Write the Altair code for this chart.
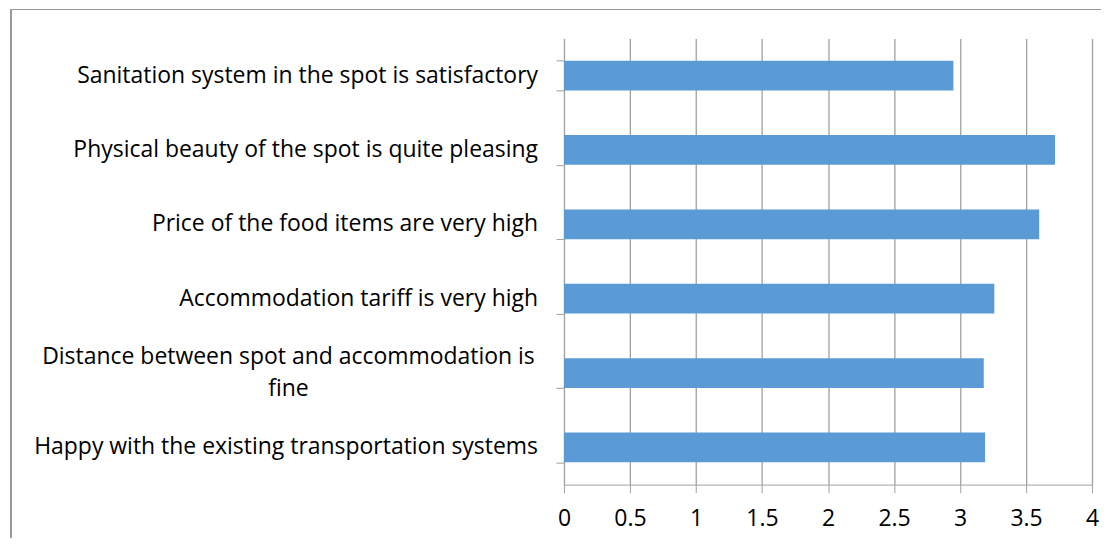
import altair as alt
import pandas as pd

categories = [
    "Sanitation system in the spot is satisfactory",
    "Physical beauty of the spot is quite pleasing",
    "Price of the food items are very high",
    "Accommodation tariff is very high",
    "Distance between spot and accommodation is\nfine",
    "Happy with the existing transportation systems",
]
values = [2.95, 3.72, 3.60, 3.26, 3.18, 3.19]
x_ticks = [0, 0.5, 1, 1.5, 2, 2.5, 3, 3.5, 4]

df = pd.DataFrame({"item": categories, "score": values})

FONT = "Open Sans"
FS = 23
GRID = "#a0a0a0"

y_enc = alt.Y(
    "item:N",
    sort=categories,
    scale=alt.Scale(paddingInner=0.6, paddingOuter=0.3),
    axis=alt.Axis(
        title=None,
        labels=False,
        tickBand="extent",
        tickSize=8,
        tickColor=GRID,
        domainColor=GRID,
        grid=False,
    ),
)

bars = alt.Chart(df).mark_bar(color="#5B9BD5").encode(
    y=y_enc,
    x=alt.X(
        "score:Q",
        scale=alt.Scale(domain=[0, 4], nice=False),
        axis=alt.Axis(
            title=None,
            values=x_ticks,
            format="~g",
            grid=True,
            gridColor=GRID,
            gridWidth=1.3,
            tickSize=8,
            tickColor=GRID,
            domainColor=GRID,
            labelFont=FONT,
            labelFontSize=FS,
            labelColor="#000000",
            labelPadding=15,
            labelFlush=False,
        ),
    ),
)

labels_single = alt.Chart(df).transform_filter(
    "indexof(datum.item, '\\n') < 0"
).mark_text(align="right", baseline="middle", font=FONT, fontSize=FS, color="#000000").encode(
    y=alt.Y("item:N", sort=categories),
    x=alt.value(-26),
    text="item:N",
)

labels_wrapped = alt.Chart(df).transform_filter(
    "indexof(datum.item, '\\n') >= 0"
).mark_text(align="center", baseline="middle", font=FONT, fontSize=FS, color="#000000",
            lineBreak="\n", lineHeight=32, dy=-16).encode(
    y=alt.Y("item:N", sort=categories),
    x=alt.value(-276),
    text="item:N",
)

border_top = alt.Chart(df).mark_rule(color="#999999", strokeWidth=1.2).encode(
    x=alt.value(-554), x2=alt.value(538), y=alt.value(-29)
)
border_left = alt.Chart(df).mark_rule(color="#999999", strokeWidth=1.2).encode(
    x=alt.value(-554), y=alt.value(-29), y2=alt.value(500)
)

chart = alt.layer(border_top, border_left, bars, labels_single, labels_wrapped).properties(
    width=529,
    height=447,
    padding={"left": 2, "top": 0, "right": 0, "bottom": 0},
).configure_view(stroke="transparent")

chart.save("out.html", embed_options={"renderer": "svg", "actions": False})
